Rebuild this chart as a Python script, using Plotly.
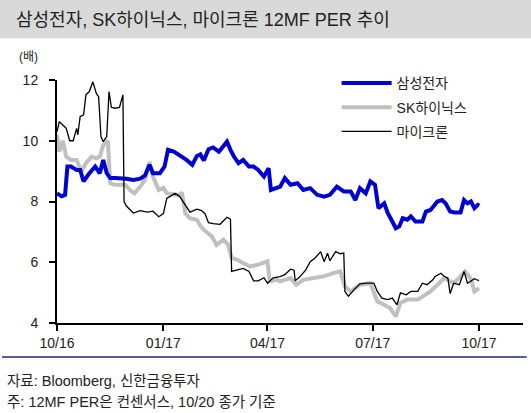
import pandas as pd
import plotly.graph_objects as go

# 12MF PER; days counted from 2016-10-20
start = pd.Timestamp("2016-10-20")

samsung_days = [0, 4, 7, 9, 12, 17, 20, 23, 27, 33, 37, 40, 43, 46, 50, 54, 60, 66, 72, 76,
                80, 83, 89, 93, 96, 101, 105, 108, 112, 117, 121, 124, 127, 131, 135, 140, 143,
                147, 150, 153, 157, 161, 166, 170, 174, 179, 183, 185, 193, 197, 202, 208, 213,
                219, 225, 231, 236, 242, 248, 254, 258, 262, 267, 271, 275, 278, 283, 286, 290,
                293, 296, 299, 303, 306, 310, 316, 319, 323, 329, 333, 336, 340, 344, 349, 352,
                355, 358, 361, 364, 365]
samsung_per = [8.27, 8.17, 8.22, 9.15, 9.15, 9.04, 9.04, 8.66, 8.88, 9.15, 8.93, 9.37, 8.93, 8.77,
               8.77, 8.77, 8.75, 8.71, 8.75, 8.85, 9.21, 8.93, 8.93, 9.15, 9.70, 9.64, 9.55, 9.48,
               9.37, 9.21, 9.50, 9.55, 9.35, 9.72, 9.78, 9.64, 9.80, 9.97, 9.70, 9.48, 9.26, 9.37,
               9.15, 9.15, 9.04, 8.82, 9.10, 8.38, 8.49, 8.77, 8.55, 8.60, 8.38, 8.44, 8.22, 8.16,
               8.22, 8.49, 8.33, 8.33, 8.05, 8.44, 8.27, 8.66, 8.55, 7.78, 7.94, 7.62, 7.34, 7.12,
               7.18, 7.45, 7.40, 7.51, 7.34, 7.34, 7.67, 7.72, 8.00, 8.05, 7.94, 7.67, 7.64, 7.64,
               8.05, 7.94, 8.00, 7.78, 7.89, 7.86]

hynix_days = [0, 2, 5, 8, 12, 17, 21, 25, 30, 34, 37, 40, 44, 46, 50, 54, 59, 63, 67, 72, 76, 80,
              83, 88, 92, 95, 101, 106, 108, 111, 115, 121, 124, 127, 134, 138, 144, 148, 151,
              156, 161, 167, 174, 182, 184, 190, 193, 202, 207, 213, 222, 230, 239, 245, 249,
              254, 262, 271, 277, 280, 288, 293, 297, 303, 312, 317, 323, 329, 335, 339, 343,
              349, 353, 358, 361, 365]
hynix_per = [10.19, 9.64, 10.00, 9.48, 9.37, 9.37, 8.98, 9.26, 9.48, 9.42, 9.48, 9.86, 10.00, 8.60,
             8.55, 8.55, 8.55, 8.38, 8.27, 8.49, 8.70, 9.30, 8.82, 8.38, 8.45, 8.27, 8.22, 8.20,
             8.30, 7.60, 7.45, 7.40, 7.20, 7.07, 6.85, 6.57, 6.74, 6.57, 6.14, 6.08, 5.97, 5.86,
             5.92, 6.03, 5.37, 5.42, 5.37, 5.48, 5.26, 5.42, 5.48, 5.53, 5.64, 5.70, 5.20, 5.04,
             5.26, 5.31, 4.71, 4.66, 4.49, 4.22, 4.66, 4.77, 4.77, 4.88, 5.04, 5.26, 5.48, 5.40,
             5.31, 5.53, 5.70, 5.45, 5.04, 5.15]

micron_days = [0, 2, 5, 8, 11, 14, 17, 18, 20, 23, 25, 28, 31, 34, 36, 38, 40, 43, 45, 47, 50,
               54, 57, 58, 60, 66, 72, 78, 83, 88, 92, 95, 98, 102, 106, 110, 115, 121, 125, 128,
               131, 135, 141, 147, 150, 151, 156, 161, 166, 170, 174, 179, 182, 187, 193, 197,
               202, 205, 206, 210, 215, 219, 223, 228, 231, 234, 236, 241, 245, 248, 249, 252,
               257, 262, 268, 274, 277, 281, 286, 290, 294, 297, 302, 306, 312, 316, 320, 325,
               327, 332, 335, 338, 340, 343, 348, 352, 355, 358, 361, 365]
micron_per = [10.30, 10.63, 10.52, 10.41, 10.00, 10.00, 10.41, 10.19, 10.79, 10.85, 11.51, 11.62,
              11.94, 11.56, 11.45, 10.14, 9.97, 10.14, 11.62, 11.10, 11.07, 11.10, 11.51, 8.00,
              7.85, 7.62, 7.70, 7.65, 7.68, 7.50, 7.60, 8.11, 8.17, 8.27, 8.17, 7.92, 7.65, 7.75,
              7.70, 7.60, 7.30, 7.27, 7.25, 7.48, 7.42, 5.70, 5.75, 5.80, 5.70, 5.39, 5.39, 5.49,
              5.31, 5.49, 5.53, 5.59, 5.77, 5.74, 5.39, 5.52, 5.74, 6.02, 6.13, 6.35, 6.02, 6.30,
              6.05, 6.35, 6.28, 6.30, 5.04, 4.88, 5.10, 5.29, 5.31, 5.31, 5.04, 4.82, 4.77, 4.82,
              4.60, 4.99, 4.93, 5.04, 5.04, 5.31, 5.26, 5.42, 5.53, 5.64, 5.53, 5.48, 4.97, 5.31,
              5.26, 5.70, 5.31, 5.39, 5.46, 5.39]

tick_dates = ["2016-10-20", "2017-01-20", "2017-04-20", "2017-07-20", "2017-10-20"]
tick_labels = ["10/16", "01/17", "04/17", "07/17", "10/17"]


def to_dates(days):
    return start + pd.to_timedelta(days, unit="D")


FONT = "Liberation Sans, Arial, Noto Sans CJK KR, sans-serif"

fig = go.Figure()

fig.add_trace(go.Scatter(x=to_dates(hynix_days), y=hynix_per, name="SK하이닉스", mode="lines",
                         line=dict(color="#c0c0c0", width=4), legendrank=2, legendgroup="b"))
fig.add_trace(go.Scatter(x=to_dates(samsung_days), y=samsung_per, name="삼성전자", mode="lines",
                         line=dict(color="#0000d2", width=4), legendrank=1, legendgroup="a"))
fig.add_trace(go.Scatter(x=to_dates(micron_days), y=micron_per, name="마이크론", mode="lines",
                         line=dict(color="#000000", width=1.3), legendrank=3, legendgroup="c"))

fig.update_layout(
    width=531, height=413,
    margin=dict(l=57, r=8, t=80, b=90),
    paper_bgcolor="white", plot_bgcolor="white",
    font=dict(family=FONT, size=13, color="#222"),
    showlegend=True,
    legend=dict(x=0.6, y=1.052, xanchor="left", yanchor="top", bgcolor="rgba(0,0,0,0)",
                font=dict(size=14, color="#222"), tracegroupgap=3, itemwidth=50),
    xaxis=dict(
        range=["2016-10-20", "2017-11-27"],
        tickvals=tick_dates, ticktext=tick_labels,
        showgrid=False, zeroline=False,
        showline=True, linecolor="black", linewidth=2,
        ticks="outside", ticklen=6, tickwidth=2, tickcolor="black",
        tickfont=dict(size=14),
    ),
    yaxis=dict(
        range=[4, 12], tickvals=[4, 6, 8, 10, 12],
        showgrid=False, zeroline=False,
        showline=True, linecolor="black", linewidth=2,
        ticks="outside", ticklen=6, tickwidth=2, tickcolor="black",
        tickfont=dict(size=14), ticklabelstandoff=8,
    ),
)

# grey title band
fig.add_shape(type="rect", xref="paper", yref="paper",
              x0=-0.13, x1=1.03, y0=1.172, y1=1.34,
              fillcolor="#d9d9d9", line=dict(width=0), layer="below")
fig.add_annotation(xref="paper", yref="paper", x=-0.093, y=1.248, xanchor="left", yanchor="middle",
                   text="삼성전자, SK하이닉스, 마이크론 12MF PER 추이", showarrow=False,
                   font=dict(size=18, color="#222"))
fig.add_annotation(xref="paper", yref="paper", x=-0.085, y=1.095, xanchor="left", yanchor="middle",
                   text="(배)", showarrow=False, font=dict(size=12, color="#222"))

# navy rule and source notes
fig.add_shape(type="line", xref="paper", yref="paper", x0=-0.118, x1=1.008, y0=-0.14, y1=-0.14,
              line=dict(color="#1c2a78", width=1.5))
fig.add_annotation(xref="paper", yref="paper", x=-0.112, y=-0.24, xanchor="left", yanchor="middle",
                   text="자료: Bloomberg, 신한금융투자", showarrow=False, font=dict(size=14.5, color="#222"))
fig.add_annotation(xref="paper", yref="paper", x=-0.112, y=-0.324, xanchor="left", yanchor="middle",
                   text="주: 12MF PER은 컨센서스, 10/20 종가 기준", showarrow=False,
                   font=dict(size=14.5, color="#222"))

fig.write_html("out.html", config={"displayModeBar": False},
               post_script="document.body.style.margin='0px';")
